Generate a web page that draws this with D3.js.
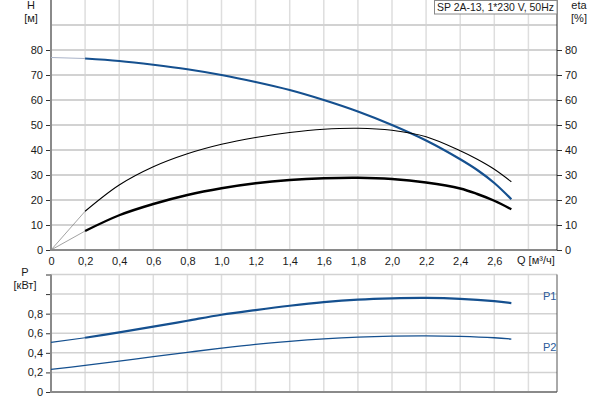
<!DOCTYPE html>
<html>
<head>
<meta charset="utf-8">
<script src="https://cdn.jsdelivr.net/npm/d3@7"></script>
<style>
body{margin:0;background:#fff;}
svg{display:block;font-family:"Liberation Sans",Arial,sans-serif;}
</style>
</head>
<body>
<svg id="c" width="600" height="400"></svg>
<script>
// ---- data ----
const qTicks = [0,0.2,0.4,0.6,0.8,1.0,1.2,1.4,1.6,1.8,2.0,2.2,2.4,2.6];
const qGrid = [0.2,0.4,0.6,0.8,1.0,1.2,1.4,1.6,1.8,2.0,2.2,2.4,2.6,2.8];
const hTicks = [0,10,20,30,40,50,60,70,80];
const hGrid = [10,20,30,40,50,60,70,80,90];
const pTicks = [0,0.2,0.4,0.6,0.8,1.0,1.2];
const pLabels = [0,0.2,0.4,0.6,0.8];

const Q  = [0.2,0.4,0.6,0.8,1.0,1.2,1.4,1.6,1.8,2.0,2.2,2.4,2.5,2.6,2.7];
const H  = [76.6,75.6,74.1,72.3,70.0,67.2,64.0,60.0,55.4,50.0,43.8,36.3,32.0,26.8,20.3];
const H0 = 77;
const ETA  = [15.5,26.0,33.3,38.5,42.3,45.0,47.0,48.3,48.7,47.9,45.3,39.7,36.3,32.3,27.3];
const ETAT = [7.6,13.9,18.4,22.0,24.7,26.7,28.0,28.7,28.9,28.4,27.0,24.6,22.4,19.7,16.3];
const QP = [0,0.2,0.4,0.6,0.8,1.0,1.2,1.4,1.6,1.8,2.0,2.2,2.4,2.6,2.7];
const P1 = [0.507,0.554,0.609,0.667,0.728,0.789,0.837,0.881,0.918,0.944,0.957,0.961,0.952,0.928,0.908];
const P2 = [0.231,0.272,0.316,0.361,0.405,0.448,0.487,0.518,0.543,0.561,0.571,0.574,0.568,0.554,0.541];

const title = "SP 2A-13, 1*230 V, 50Hz";

// ---- layout ----
const svg = d3.select("#c");
const L = 51, R = 557;
const x = d3.scaleLinear().domain([0, (R-L)/170.5]).range([L, R]);
const yH = d3.scaleLinear().domain([0,100]).range([250,0]);
const yP = d3.scaleLinear().domain([0,1.2]).range([392,274.5]);
const fmt = v => v === 0 ? "0" : d3.format(".1f")(v).replace(".", ",");
const fmtI = d3.format("d");
const blue = "#15508f";
const txt = "#1a1a1a";

// grids top
const gTop = svg.append("g");
gTop.selectAll(".vg").data(qGrid).join("line")
  .attr("x1", d=>x(d)).attr("x2", d=>x(d)).attr("y1", yH(100)).attr("y2", yH(0))
  .attr("stroke", "#dedede").attr("stroke-width", 1.5);
gTop.selectAll(".hg").data(hGrid).join("line")
  .attr("x1", L).attr("x2", R).attr("y1", d=>yH(d)).attr("y2", d=>yH(d))
  .attr("stroke", "#d2d2d2").attr("stroke-width", 2);

// grids bottom
const gBot = svg.append("g");
gBot.selectAll(".vg").data(qGrid).join("line")
  .attr("x1", d=>x(d)).attr("x2", d=>x(d)).attr("y1", yP(1.2)).attr("y2", yP(0))
  .attr("stroke", "#dedede").attr("stroke-width", 1.5);
gBot.selectAll(".hg").data([0.2,0.4,0.6,0.8,1.0,1.2]).join("line")
  .attr("x1", L).attr("x2", R).attr("y1", d=>yP(d)).attr("y2", d=>yP(d))
  .attr("stroke", "#d2d2d2").attr("stroke-width", 1.5);

// axes
function styleAxis(g){
  g.select(".domain").remove();
  g.selectAll("text").attr("fill", txt).attr("font-size", 11);
  g.selectAll(".tick line").attr("stroke", "#333");
}
svg.append("g").attr("transform", `translate(${L},0)`)
  .call(d3.axisLeft(yH).tickValues(hTicks).tickSize(5).tickPadding(3).tickFormat(fmtI))
  .call(styleAxis);
svg.append("g").attr("transform", `translate(${R},0)`)
  .call(d3.axisRight(yH).tickValues(hTicks).tickSize(5).tickPadding(3).tickFormat(fmtI))
  .call(styleAxis);
svg.append("g").attr("transform", `translate(0,250)`)
  .call(d3.axisBottom(x).tickValues(qTicks).tickSize(0).tickPadding(7).tickFormat(fmt))
  .call(styleAxis);
svg.append("g").attr("transform", `translate(${L},0)`)
  .call(d3.axisLeft(yP).tickValues(pTicks).tickSize(5).tickPadding(3)
    .tickFormat(v => pLabels.some(p => Math.abs(p-v)<1e-9) ? fmt(v) : ""))
  .call(styleAxis);

// frame lines
svg.append("line").attr("x1", L).attr("x2", L).attr("y1", 0).attr("y2", 251)
  .attr("stroke", "#8a8a8a").attr("stroke-width", 2);
svg.append("line").attr("x1", L-1).attr("x2", R).attr("y1", 250).attr("y2", 250)
  .attr("stroke", "#8a8a8a").attr("stroke-width", 2);
svg.append("line").attr("x1", R).attr("x2", R).attr("y1", 0).attr("y2", 250)
  .attr("stroke", "#222").attr("stroke-width", 1);
svg.append("line").attr("x1", L).attr("x2", L).attr("y1", yP(1.2)).attr("y2", yP(0)+1)
  .attr("stroke", "#8a8a8a").attr("stroke-width", 2);
svg.append("line").attr("x1", L-1).attr("x2", R).attr("y1", yP(0)).attr("y2", yP(0))
  .attr("stroke", "#8a8a8a").attr("stroke-width", 2);
svg.append("line").attr("x1", R).attr("x2", R).attr("y1", yP(1.2)).attr("y2", yP(0))
  .attr("stroke", "#555").attr("stroke-width", 1);

// axis titles
const at = (t, xx, yy, anchor) => svg.append("text").attr("x", xx).attr("y", yy)
  .attr("text-anchor", anchor||"middle").attr("font-size", 11).attr("fill", txt).text(t);
at("H", 31, 9);
at("[м]", 31, 22);
at("eta", 579, 9);
at("[%]", 579, 22);
at("P", 25, 276);
at("[кВт]", 25, 289);
at("Q [м³/ч]", 517, 264, "start");

// title box
svg.append("rect").attr("x", 434.5).attr("y", 0.5).attr("width", R-434.5).attr("height", 13.5)
  .attr("fill", "#fff").attr("stroke", "#888");
svg.append("text").attr("x", 437).attr("y", 11).attr("font-size", 11).attr("fill", txt)
  .attr("textLength", 117).attr("lengthAdjust", "spacingAndGlyphs").text(title);

// curves
const line = (ys) => d3.line().x(d=>x(d[0])).y(d=>ys(d[1])).curve(d3.curveCatmullRom.alpha(0.5));
const zip = (a,b) => a.map((v,i)=>[v,b[i]]);

// H
svg.append("path").datum([[0,H0],[Q[0],H[0]]]).attr("d", line(yH))
  .attr("fill","none").attr("stroke","#a9b3c8").attr("stroke-width",1.2);
svg.append("path").datum(zip(Q,H)).attr("d", line(yH))
  .attr("fill","none").attr("stroke",blue).attr("stroke-width",2.2);
// eta (pump)
svg.append("path").datum([[0,0],[Q[0],ETA[0]]]).attr("d", line(yH))
  .attr("fill","none").attr("stroke","#8a8a8a").attr("stroke-width",0.8);
svg.append("path").datum(zip(Q,ETA)).attr("d", line(yH))
  .attr("fill","none").attr("stroke","#000").attr("stroke-width",1.1);
// eta total
svg.append("path").datum([[0,0],[Q[0],ETAT[0]]]).attr("d", line(yH))
  .attr("fill","none").attr("stroke","#8a8a8a").attr("stroke-width",0.8);
svg.append("path").datum(zip(Q,ETAT)).attr("d", line(yH))
  .attr("fill","none").attr("stroke","#000").attr("stroke-width",2.4);

// P1
svg.append("path").datum(zip(QP.slice(0,2),P1.slice(0,2))).attr("d", line(yP))
  .attr("fill","none").attr("stroke",blue).attr("stroke-width",1.2);
svg.append("path").datum(zip(QP.slice(1),P1.slice(1))).attr("d", line(yP))
  .attr("fill","none").attr("stroke",blue).attr("stroke-width",2.2);
// P2
svg.append("path").datum(zip(QP,P2)).attr("d", line(yP))
  .attr("fill","none").attr("stroke",blue).attr("stroke-width",1.3);

svg.append("text").attr("x", 543).attr("y", 300).attr("font-size", 11).attr("fill", "#2a5a9a").text("P1");
svg.append("text").attr("x", 543).attr("y", 351).attr("font-size", 11).attr("fill", "#2a5a9a").text("P2");
</script>
</body>
</html>
